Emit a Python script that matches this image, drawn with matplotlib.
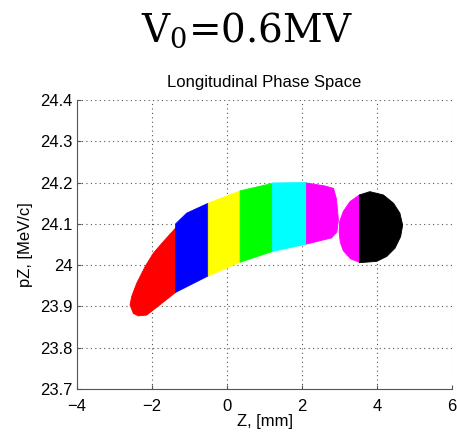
import numpy as np
import matplotlib
matplotlib.use('Agg')
import matplotlib.pyplot as plt

# slice outlines, (Z [mm], pZ [MeV/c])
red_z  = [-2.587, -2.542, -2.409, -2.187, -1.964, -1.698, -1.37, -1.37, -1.787, -2.142, -2.364, -2.498]
red_pz = [23.904, 23.924, 23.956, 23.996, 24.029, 24.057, 24.090, 23.934, 23.904, 23.879, 23.877, 23.883]

blue_z  = [-1.37, -1.075, -0.50, -0.50, -1.37]
blue_pz = [24.100, 24.126, 24.150, 23.974, 23.934]

yellow_z  = [-0.50, 0.35, 0.35, -0.50]
yellow_pz = [24.150, 24.180, 24.007, 23.974]

green_z  = [0.35, 1.21, 1.21, 0.35]
green_pz = [24.180, 24.198, 24.033, 24.007]

cyan_z  = [1.21, 2.12, 2.12, 1.21]
cyan_pz = [24.199, 24.200, 24.051, 24.033]

mag1_z  = [2.12, 2.60, 2.84, 2.92, 2.97, 2.93, 2.79, 2.12]
mag1_pz = [24.199, 24.192, 24.186, 24.160, 24.109, 24.080, 24.066, 24.051]

mag2_z  = [3.53, 3.28, 3.10, 3.00, 2.99, 3.02, 3.10, 3.30, 3.53]
mag2_pz = [24.170, 24.154, 24.130, 24.105, 24.080, 24.055, 24.035, 24.015, 24.007]

black_z  = [3.53, 3.81, 4.17, 4.44, 4.61, 4.684, 4.63, 4.48, 4.26, 3.99, 3.53]
black_pz = [24.170, 24.178, 24.170, 24.150, 24.126, 24.097, 24.069, 24.041, 24.021, 24.009, 24.006]

slices = [(red_z, red_pz, 'red'), (blue_z, blue_pz, 'blue'), (yellow_z, yellow_pz, 'yellow'),
          (green_z, green_pz, 'lime'), (cyan_z, cyan_pz, 'cyan'), (mag1_z, mag1_pz, 'magenta'),
          (mag2_z, mag2_pz, 'magenta'), (black_z, black_pz, 'black')]

xticks = [-4, -2, 0, 2, 4, 6]
yticks = [23.7, 23.8, 23.9, 24.0, 24.1, 24.2, 24.3, 24.4]
yticklabels = ['23.7', '23.8', '23.9', '24', '24.1', '24.2', '24.3', '24.4']

plt.rcParams['font.family'] = ['Liberation Sans', 'DejaVu Sans']
plt.rcParams['mathtext.fontset'] = 'dejavuserif'

fig = plt.figure(figsize=(4.57, 4.38), dpi=100)
ax = fig.add_axes([0.1685, 0.1119, 0.8206, 0.6598])

for z, pz, c in slices:
    ax.fill(z, pz, color=c, lw=0.6, ec=c, joinstyle='round')

ax.set_xlim(-4, 6)
ax.set_ylim(23.7, 24.4)
ax.set_xticks(xticks)
ax.set_yticks(yticks)
ax.set_yticklabels(yticklabels)
ax.tick_params(direction='in', length=3, labelsize=12, colors='#555555', labelcolor='black')
ax.tick_params(axis='x', pad=7)
ax.tick_params(axis='y', pad=3)
ax.grid(True, linestyle=(0, (1, 3)), color='#555555', lw=0.8)
ax.set_axisbelow(True)
for s in ['top', 'right']:
    ax.spines[s].set_visible(False)
for s in ['left', 'bottom']:
    ax.spines[s].set_color('#555555')

ax.set_xlabel('Z, [mm]', fontsize=12, labelpad=0)
ax.set_ylabel('pZ, [MeV/c]', fontsize=12, labelpad=5)
ax.set_title('Longitudinal Phase Space', fontsize=12, pad=9)

fig.text(0.54, 0.93, r'V$_0$=0.6MV', fontsize=28, family='DejaVu Serif', ha='center', va='center')

fig.savefig('out.png', dpi=100)
